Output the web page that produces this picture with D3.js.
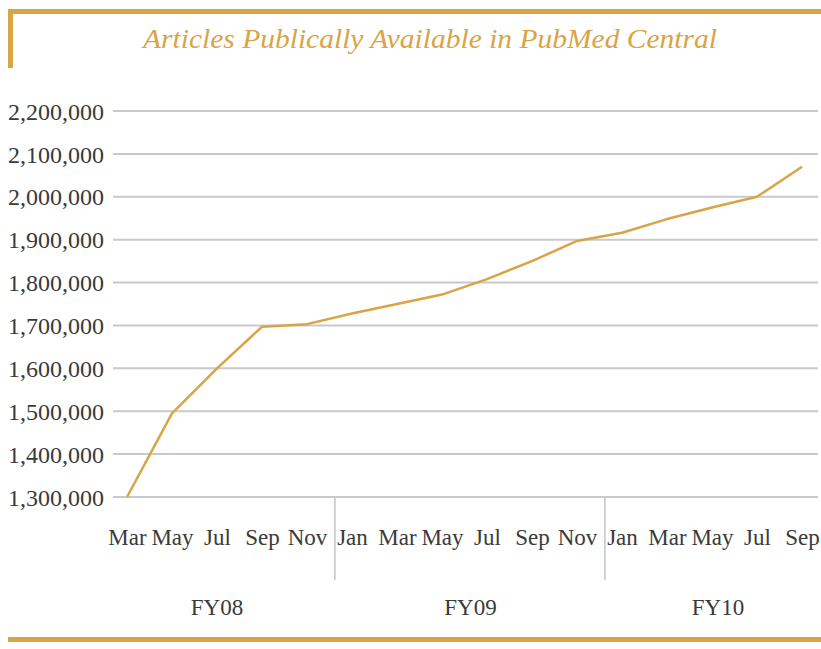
<!DOCTYPE html>
<html>
<head>
<meta charset="utf-8">
<script src="https://cdn.jsdelivr.net/npm/d3@7"></script>
<style>
  body { margin: 0; background: #fff; }
  text { font-family: "Liberation Serif", "DejaVu Serif", serif; fill: #3a3a3a; }
</style>
</head>
<body>
<script>
var width = 821,
    height = 649;

// months shown on the axis, one point each
var months = ["Mar", "May", "Jul", "Sep", "Nov",
              "Jan", "Mar", "May", "Jul", "Sep", "Nov",
              "Jan", "Mar", "May", "Jul", "Sep"];
var fiscalYears = ["FY08", "FY08", "FY08", "FY08", "FY08",
                   "FY09", "FY09", "FY09", "FY09", "FY09", "FY09",
                   "FY10", "FY10", "FY10", "FY10", "FY10"];
var articles = [1300000, 1495000, 1600000, 1697000, 1703000,
                1728000, 1750000, 1772000, 1808000, 1850000, 1897000,
                1916000, 1948000, 1975000, 2000000, 2070000];
var yTicks = [1300000, 1400000, 1500000, 1600000, 1700000,
              1800000, 1900000, 2000000, 2100000, 2200000];
var groups = ["FY08", "FY09", "FY10"];

var gold = "#d9a445";

var svg = d3.select("body").append("svg")
    .attr("width", width)
    .attr("height", height);

// frame bits: top bar, left bar, bottom bar
svg.append("rect").attr("x", 8).attr("y", 9).attr("width", width - 8).attr("height", 5).attr("fill", gold);
svg.append("rect").attr("x", 8).attr("y", 9).attr("width", 5).attr("height", 59).attr("fill", gold);
svg.append("rect").attr("x", 8).attr("y", 637).attr("width", width - 8).attr("height", 5).attr("fill", gold);

svg.append("text")
    .attr("x", 430)
    .attr("y", 48)
    .attr("text-anchor", "middle")
    .attr("textLength", 574)
    .attr("lengthAdjust", "spacingAndGlyphs")
    .style("font-style", "italic")
    .style("font-size", "27px")
    .style("fill", gold)
    .text("Articles Publically Available in PubMed Central");

var idx = d3.range(months.length);

var x = d3.scalePoint()
    .domain(idx)
    .range([127, 802]);

var y = d3.scaleLinear()
    .domain([1300000, 2200000])
    .range([497, 111]);

// gridlines
svg.append("g").attr("class", "grid")
  .selectAll("line")
  .data(yTicks)
  .enter().append("line")
    .attr("x1", 113)
    .attr("x2", 818)
    .attr("y1", d => y(d))
    .attr("y2", d => y(d))
    .style("stroke", "#c9c9cd")
    .style("stroke-width", 2);

// y labels
var yAxis = svg.append("g")
    .attr("transform", "translate(104,0)")
    .call(d3.axisLeft(y).tickValues(yTicks).tickSize(0).tickPadding(0).tickFormat(d3.format(",")));
yAxis.select(".domain").remove();
yAxis.selectAll("text")
    .style("font-size", "24px")
    .attr("font-family", null)
    .attr("dy", "0.34em");

// month labels
var xAxis = svg.append("g")
    .attr("transform", "translate(0,545)")
    .call(d3.axisBottom(x).tickSize(0).tickPadding(0).tickFormat(i => months[i]));
xAxis.select(".domain").remove();
xAxis.selectAll("text")
    .style("font-size", "23px")
    .attr("font-family", null)
    .attr("dy", 0)
    .attr("y", 0);

// separators between fiscal years
var step = x.step();
var seps = idx.filter(i => i > 0 && fiscalYears[i] !== fiscalYears[i - 1]);
svg.selectAll("line.sep")
    .data(seps)
    .enter().append("line")
    .attr("class", "sep")
    .attr("x1", i => x(i - 1) + step * 0.62)
    .attr("x2", i => x(i - 1) + step * 0.62)
    .attr("y1", 498)
    .attr("y2", 580)
    .style("stroke", "#c4c4c4")
    .style("stroke-width", 1.5);

// fiscal year labels
svg.selectAll("text.fy")
    .data(groups)
    .enter().append("text")
    .attr("class", "fy")
    .attr("x", g => {
      var pts = idx.filter(i => fiscalYears[i] === g);
      return d3.mean(pts, i => x(i)) + (g === "FY08" ? 0 : 6);
    })
    .attr("y", 615)
    .attr("text-anchor", "middle")
    .style("font-size", "23px")
    .text(g => g);

var line = d3.line()
    .x((d, i) => x(i))
    .y(d => y(d));

svg.append("path")
    .datum(articles)
    .attr("d", line)
    .attr("fill", "none")
    .style("stroke", gold)
    .style("stroke-width", 2.5)
    .style("stroke-linejoin", "round");
</script>
</body>
</html>
